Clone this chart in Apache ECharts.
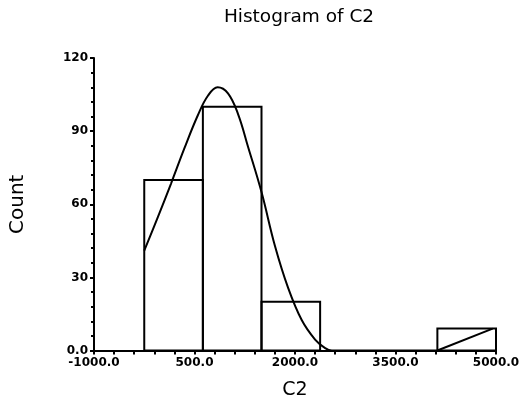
<!DOCTYPE html>
<html>
<head>
<meta charset="utf-8">
<script src="https://cdn.jsdelivr.net/npm/echarts@6/dist/echarts.min.js"></script>
<style>
html,body{margin:0;padding:0;background:#fff;}
#chart{width:526px;height:401px;}
</style>
</head>
<body>
<div id="chart"></div>
<script>
// Histogram bins: [start, end]
var binStarts = [-250, 625, 1500, 2375, 3250, 4125];
var binEnds   = [625, 1500, 2375, 3250, 4125, 5000];
var binCounts = [70, 100, 20, 0, 0, 9];

// Fitted curve points
var curveX = [-250, -50, 150, 350, 550, 700, 845, 1000, 1150, 1300, 1500, 1700, 1900, 2100, 2300, 2450, 2550, 4125];
var curveY = [41, 54.5, 68.5, 83, 96.5, 104.5, 108, 105.5, 97, 83.5, 65, 43, 25.5, 12.5, 4.5, 1, 0, 0];

// Curve over last bin
var tailX = [4125, 4950];
var tailY = [0, 9];

var xTickLabels = {'-1000': '-1000.0', '500': '500.0', '2000': '2000.0', '3500': '3500.0', '5000': '5000.0'};
var yTickLabels = {'0': '0.0', '30': '30', '60': '60', '90': '90', '120': '120'};

var binData = binStarts.map(function (s, i) { return [s, binEnds[i], binCounts[i]]; });
var curveData = curveX.map(function (x, i) { return [x, curveY[i]]; });
var tailData = tailX.map(function (x, i) { return [x, tailY[i]]; });

var chart = echarts.init(document.getElementById('chart'), null, {renderer: 'canvas'});
chart.setOption({
  animation: false,
  backgroundColor: '#fff',
  title: {
    text: 'Histogram of C2',
    left: 294, top: 3, textAlign: 'center',
    textStyle: {fontFamily: 'DejaVu Sans', fontSize: 18.5, fontWeight: 'normal', color: '#000'}
  },
  grid: {left: 94, right: 30, top: 58, bottom: 50.5, containLabel: false, outerBoundsMode: 'none'},
  xAxis: {
    type: 'value', min: -1000, max: 5000, interval: 1500,
    name: 'C2', nameLocation: 'middle', nameGap: 30,
    nameTextStyle: {fontFamily: 'DejaVu Sans', fontSize: 19, color: '#000'},
    axisLine: {show: true, onZero: false, lineStyle: {color: '#000', width: 2}},
    axisTick: {show: true, length: 4, lineStyle: {color: '#000', width: 2}},
    minorTick: {show: true, splitNumber: 5, length: 4, lineStyle: {color: '#000', width: 2}},
    splitLine: {show: false},
    axisLabel: {
      margin: 6, color: '#000', fontFamily: 'DejaVu Sans', fontWeight: 'bold', fontSize: 12,
      formatter: function (v) { return xTickLabels[String(v)] || ''; }
    }
  },
  yAxis: {
    type: 'value', min: 0, max: 120, interval: 30,
    name: 'Count', nameLocation: 'middle', nameGap: 66, nameRotate: 90,
    nameTextStyle: {fontFamily: 'DejaVu Sans', fontSize: 20, color: '#000'},
    axisLine: {show: true, onZero: false, lineStyle: {color: '#000', width: 2}},
    axisTick: {show: true, length: 4, lineStyle: {color: '#000', width: 2}},
    minorTick: {show: true, splitNumber: 5, length: 3, lineStyle: {color: '#000', width: 2}},
    splitLine: {show: false},
    axisLabel: {
      margin: 6, color: '#000', fontFamily: 'DejaVu Sans', fontWeight: 'bold', fontSize: 12,
      formatter: function (v) { return yTickLabels[String(v)] || ''; }
    }
  },
  series: [
    {
      type: 'custom',
      data: binData,
      encode: {x: [0, 1], y: 2},
      renderItem: function (params, api) {
        var h = api.value(2);
        if (!h) return null;
        var p0 = api.coord([api.value(0), h]);
        var p1 = api.coord([api.value(1), 0]);
        return {
          type: 'rect',
          shape: {x: p0[0], y: p0[1], width: p1[0] - p0[0], height: p1[1] - p0[1]},
          style: {fill: 'none', stroke: '#000', lineWidth: 2}
        };
      },
      z: 2
    },
    {
      type: 'line', data: curveData, smooth: 0.4, showSymbol: false,
      lineStyle: {color: '#000', width: 2}, z: 3
    },
    {
      type: 'line', data: tailData, showSymbol: false,
      lineStyle: {color: '#000', width: 2}, z: 3
    }
  ]
});
</script>
</body>
</html>
